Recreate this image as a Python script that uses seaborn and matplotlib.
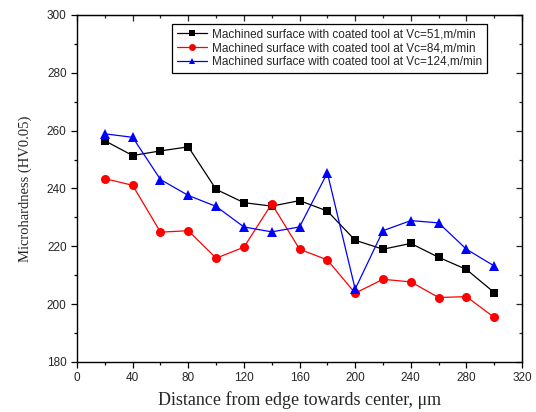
import pandas as pd
import matplotlib
matplotlib.use("Agg")
import matplotlib.pyplot as plt
import seaborn as sns
from matplotlib.ticker import AutoMinorLocator, MultipleLocator

# distances from edge (micrometres)
distance = [20, 40, 60, 80, 100, 120, 140, 160, 180, 200, 220, 240, 260, 280, 300]

# microhardness values
hv_vc51 = [256.5, 251.4, 253.0, 254.4, 239.7, 235.1, 233.9, 235.8, 232.2, 222.1, 219.0, 221.0, 216.2, 212.0, 204.0]
hv_vc84 = [243.4, 241.1, 224.9, 225.4, 215.9, 219.7, 234.7, 219.0, 215.3, 203.8, 208.6, 207.7, 202.3, 202.6, 195.4]
hv_vc124 = [258.9, 257.7, 243.1, 237.6, 233.8, 226.7, 225.0, 226.7, 245.4, 205.2, 225.4, 228.9, 228.1, 219.0, 213.2]

labels = [
    "Machined surface with coated tool at Vc=51,m/min",
    "Machined surface with coated tool at Vc=84,m/min",
    "Machined surface with coated tool at Vc=124,m/min",
]
colors = ["black", "#ff0000", "#0000ff"]
markers = ["s", "o", "^"]

frames = []
for lab, vals in zip(labels, [hv_vc51, hv_vc84, hv_vc124]):
    frames.append(pd.DataFrame({"distance": distance, "hv": vals, "series": lab}))
df = pd.concat(frames, ignore_index=True)

sns.set_style("ticks")
plt.rcParams["font.family"] = ["Liberation Sans", "DejaVu Sans"]

fig = plt.figure(figsize=(5.36, 4.12), dpi=100)
ax = fig.add_axes([0.1437, 0.1214, 0.8303, 0.8422])

sns.lineplot(data=df, x="distance", y="hv", hue="series", style="series",
             palette=dict(zip(labels, colors)), markers=dict(zip(labels, markers)),
             dashes=False, markersize=6.5, markeredgewidth=0, linewidth=0.9, ax=ax)
# squares look a bit heavier than circles/triangles at the same size
for ln in ax.lines:
    if ln.get_marker() == "s":
        ln.set_markersize(5.6)

ax.set_xlim(0, 320)
ax.set_ylim(180, 300)
ax.xaxis.set_major_locator(MultipleLocator(40))
ax.yaxis.set_major_locator(MultipleLocator(20))
ax.xaxis.set_minor_locator(AutoMinorLocator(2))
ax.yaxis.set_minor_locator(AutoMinorLocator(2))
ax.tick_params(which="both", direction="out", labelsize=8.5, width=0.9, color="black")
ax.tick_params(which="major", length=4)
ax.tick_params(which="minor", length=2.5)

# mirrored top/right axes with inward ticks
top = ax.secondary_xaxis("top")
top.xaxis.set_major_locator(MultipleLocator(40))
top.xaxis.set_minor_locator(AutoMinorLocator(2))
top.tick_params(which="both", direction="in", labeltop=False, width=0.9)
top.tick_params(which="major", length=4)
top.tick_params(which="minor", length=2.5)
right = ax.secondary_yaxis("right")
right.yaxis.set_major_locator(MultipleLocator(20))
right.yaxis.set_minor_locator(AutoMinorLocator(2))
right.tick_params(which="both", direction="in", labelright=False, width=0.9)
right.tick_params(which="major", length=4)
right.tick_params(which="minor", length=2.5)

for sp in ax.spines.values():
    sp.set_visible(True)
    sp.set_linewidth(1.0)
    sp.set_color("black")

serif = ["Liberation Serif", "DejaVu Serif"]
ax.set_xlabel("Distance from edge towards center, μm", family=serif, fontsize=13, labelpad=5)
ax.set_ylabel("Microhardness (HV0.05)", family=serif, fontsize=10.5, labelpad=11)

leg = ax.legend(loc="upper left", bbox_to_anchor=(0.213, 0.975), fontsize=8.5,
                frameon=True, fancybox=False, edgecolor="black", framealpha=1,
                borderpad=0.4, labelspacing=0.15, handlelength=2.6, handletextpad=0.4,
                borderaxespad=0)
leg.get_frame().set_linewidth(0.9)
for h in leg.legend_handles:
    h.set_markersize(5)

fig.savefig("out.png", dpi=100)
